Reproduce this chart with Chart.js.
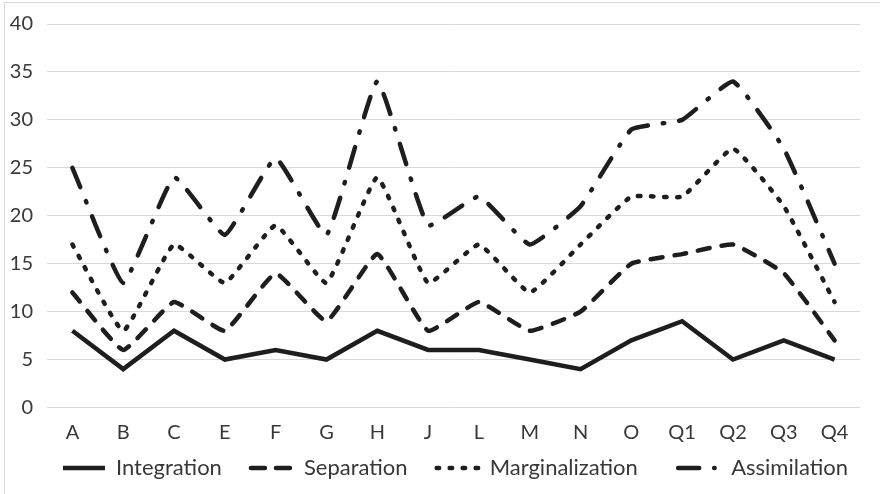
<!DOCTYPE html>
<html><head><meta charset="utf-8">
<script src="https://cdn.jsdelivr.net/npm/chart.js@4.4.1/dist/chart.umd.min.js"></script>
<style>
html,body{margin:0;padding:0;background:#fff;overflow:hidden;}
#frame{position:absolute;left:4px;top:2px;width:900px;height:520px;border:1px solid #d9d9d9;box-sizing:border-box;}
#wrap{position:absolute;left:0;top:0;width:880px;height:494px;}
</style></head><body>
<div id="frame"></div>
<div id="wrap"><canvas id="c" width="880" height="494"></canvas></div>
<script>
const categories = ['A','B','C','E','F','G','H','J','L','M','N','O','Q1','Q2','Q3','Q4'];
const integration     = [8, 4, 8, 5, 6, 5, 8, 6, 6, 5, 4, 7, 9, 5, 7, 5];
const separation      = [12, 6, 11, 8, 14, 9, 16, 8, 11, 8, 10, 15, 16, 17, 14, 7];
const marginalization = [17, 8, 17, 13, 19, 13, 24, 13, 17, 12, 17, 22, 22, 27, 21, 11];
const assimilation    = [25, 13, 24, 18, 26, 18, 34, 19, 22, 17, 21, 29, 30, 34, 27, 15];
const yTicks = [0, 5, 10, 15, 20, 25, 30, 35, 40];
const legendGaps = ['    ', '    ', '      ', ''];
const legendDashes = [[], [14, 11], [2.5, 10.5], [21, 15, 0.5, 20]];

const LINE = '#1e1e1e';
const TEXT = '#383838';
const FONT = 'Lato, "Open Sans", sans-serif';
const TICK_SIZE = 20;

// widest y tick label, used to right-align mirrored labels at x = 33
const mctx = document.createElement('canvas').getContext('2d');
mctx.font = TICK_SIZE + 'px ' + FONT;
const widest = Math.max(...yTicks.map(v => mctx.measureText(String(v)).width));
const PLOT_LEFT = 47, LABEL_RIGHT = 33;

new Chart(document.getElementById('c'), {
  type: 'line',
  data: {
    labels: categories,
    datasets: [
      { label: 'Integration', data: integration, borderColor: LINE, backgroundColor: LINE,
        borderWidth: 4.5, tension: 0, borderCapStyle: 'butt', borderJoinStyle: 'miter', pointRadius: 0 },
      { label: 'Separation', data: separation, borderColor: LINE, backgroundColor: LINE,
        borderWidth: 4.5, tension: 0.12, borderDash: [12, 12], borderCapStyle: 'round', borderJoinStyle: 'round', pointRadius: 0 },
      { label: 'Marginalization', data: marginalization, borderColor: LINE, backgroundColor: LINE,
        borderWidth: 4.5, tension: 0.12, borderDash: [2.5, 10.5], borderCapStyle: 'round', borderJoinStyle: 'round', pointRadius: 0 },
      { label: 'Assimilation', data: assimilation, borderColor: LINE, backgroundColor: LINE,
        borderWidth: 4.5, tension: 0.12, borderDash: [21, 15, 1.5, 15], borderCapStyle: 'round', borderJoinStyle: 'round', pointRadius: 0 }
    ]
  },
  options: {
    responsive: false,
    animation: false,
    devicePixelRatio: 1,
    layout: { padding: { left: 31, right: 0, top: 24, bottom: 5 } },
    plugins: {
      tooltip: { enabled: false },
      legend: {
        position: 'bottom',
        align: 'center',
        labels: {
          usePointStyle: true,
          pointStyle: 'line',
          pointStyleWidth: 42,
          padding: 6.5,
          color: TEXT,
          font: { family: FONT, size: 22 },
          generateLabels(chart) {
            const items = Chart.defaults.plugins.legend.labels.generateLabels(chart);
            items.forEach((it, i) => {
              const ds = chart.data.datasets[it.datasetIndex];
              it.lineDash = legendDashes[i] || [];
              it.lineCap = ds.borderCapStyle || 'butt';
              it.lineWidth = ds.borderWidth;
              it.strokeStyle = ds.borderColor;
              it.text = it.text + (legendGaps[i] || '');
            });
            return items;
          }
        }
      }
    },
    scales: {
      x: {
        offset: true,
        grid: { display: false, drawTicks: false },
        border: { display: false },
        ticks: { color: TEXT, font: { family: FONT, size: TICK_SIZE }, padding: 13, maxRotation: 0, autoSkip: false },
        afterFit(s) { s.height = 43; }
      },
      y: {
        min: 0, max: 40,
        afterBuildTicks(s) { s.ticks = yTicks.map(v => ({ value: v })); },
        grid: { color: '#d9d9d9', lineWidth: 1, drawTicks: false },
        border: { display: false },
        ticks: { color: TEXT, font: { family: FONT, size: TICK_SIZE }, mirror: true, crossAlign: 'far',
                 padding: LABEL_RIGHT - PLOT_LEFT - widest },
        afterFit(s) { s.width = 16; }
      },
      y2: {
        position: 'right',
        display: true,
        grid: { display: false, drawTicks: false },
        border: { display: false },
        ticks: { display: false },
        afterFit(s) { s.width = 20; }
      }
    }
  }
});
</script>
</body></html>
